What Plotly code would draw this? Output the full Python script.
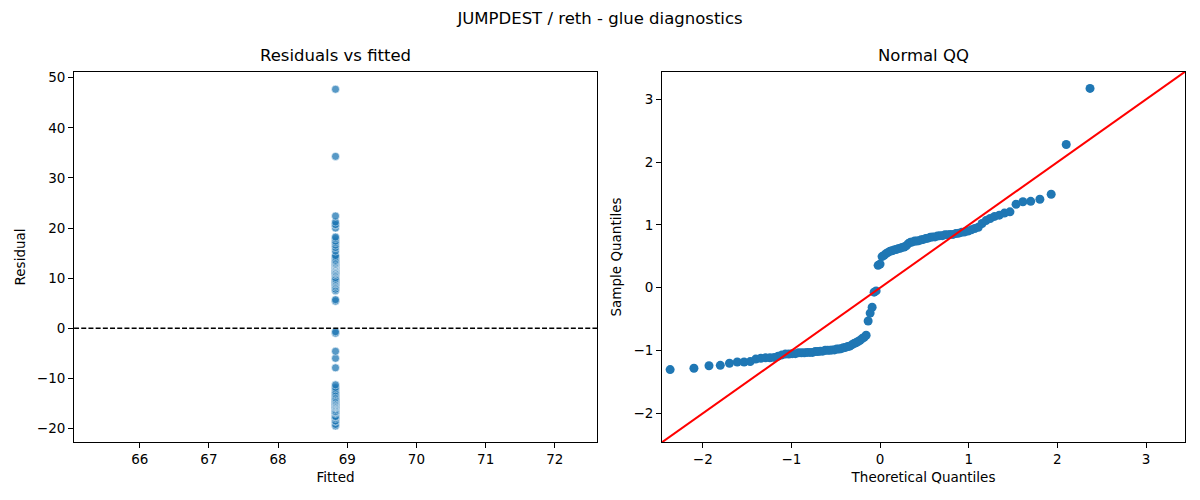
import numpy as np
from statistics import NormalDist
import plotly.graph_objects as go

# residuals of the glue model (sorted), all share one fitted value
residuals = [
    -19.5, -19.2, -18.6, -18.5, -18.0, -17.7, -17.7, -17.6, -17.0, -16.8,
    -16.7, -16.7, -16.6, -16.3, -16.0, -15.8, -15.8, -15.7, -15.7, -15.5,
    -15.5, -15.5, -15.4, -15.4, -15.4, -15.2, -15.2, -15.1, -15.1, -14.9,
    -14.9, -14.9, -14.8, -14.8, -14.6, -14.6, -14.5, -14.3, -14.2, -14.0,
    -13.9, -13.6, -13.3, -13.1, -12.8, -12.5, -12.1, -11.8, -11.3, -7.9,
    -6.0, -4.6, -1.0, -0.7, 5.4, 5.7, 7.5, 7.8, 8.2, 8.5,
    8.8, 8.9, 9.1, 9.2, 9.4, 9.5, 9.7, 9.8, 10.1, 10.6,
    10.9, 11.0, 11.2, 11.2, 11.3, 11.5, 11.6, 11.8, 11.9, 12.1,
    12.2, 12.2, 12.4, 12.5, 12.5, 12.7, 12.7, 12.8, 12.8, 13.0,
    13.1, 13.3, 13.4, 13.6, 13.9, 14.2, 14.5, 15.4, 16.1, 16.6,
    17.1, 17.4, 17.9, 18.2, 20.0, 20.6, 20.7, 21.2, 22.4, 34.3,
    47.7,
]
fitted_value = 68.83

fitted = [fitted_value] * len(residuals)

# normal QQ, standardized sample like statsmodels qqplot(fit=True)
r = np.sort(np.array(residuals))
n = len(r)
sample_q = (r - r.mean()) / r.std()
theo_q = [NormalDist().inv_cdf(i / (n + 1)) for i in range(1, n + 1)]

QQ_LIMS = [-2.46, 3.44]

FONT = "DejaVu Sans"
BLUE = "#1f77b4"

fig = go.Figure()

fig.add_trace(go.Scatter(
    x=fitted, y=residuals, mode="markers",
    marker=dict(color=BLUE, opacity=0.75, size=8,
                line=dict(color="white", width=0.6)),
    xaxis="x", yaxis="y", showlegend=False))

fig.add_trace(go.Scatter(
    x=[65.05, 72.61], y=[0, 0], mode="lines",
    line=dict(color="black", width=1.3, dash="5px,2.2px"),
    xaxis="x", yaxis="y", showlegend=False))

fig.add_trace(go.Scatter(
    x=theo_q, y=sample_q, mode="markers",
    marker=dict(color=BLUE, size=9, line=dict(width=0)),
    xaxis="x2", yaxis="y2", showlegend=False))

fig.add_trace(go.Scatter(
    x=QQ_LIMS, y=QQ_LIMS, mode="lines",
    line=dict(color="red", width=2),
    xaxis="x2", yaxis="y2", showlegend=False))

axis_style = dict(
    showline=True, linecolor="black", linewidth=1, mirror=True,
    ticks="outside", ticklen=5, tickwidth=1, tickcolor="black",
    showgrid=False, zeroline=False,
    tickfont=dict(family=FONT, size=13.5, color="black"),
)

fig.update_layout(
    width=1200, height=500,
    margin=dict(l=0, r=0, t=0, b=0),
    plot_bgcolor="white", paper_bgcolor="white",
    font=dict(family=FONT, color="black"),
    title=dict(text="JUMPDEST / reth - glue diagnostics",
               x=0.5, xanchor="center", y=0.964, yanchor="middle",
               font=dict(family=FONT, size=16.5, color="black")),
    xaxis=dict(domain=[0.0617, 0.4975], range=[65.05, 72.61], dtick=1,
               title=dict(text="Fitted", font=dict(size=13.5), standoff=6),
               anchor="y", **axis_style),
    yaxis=dict(domain=[0.116, 0.86], range=[-22.75, 51.2], dtick=10,
               title=dict(text="Residual", font=dict(size=13.5), standoff=8),
               anchor="x", **axis_style),
    xaxis2=dict(domain=[0.5517, 0.9875], range=QQ_LIMS, dtick=1,
                title=dict(text="Theoretical Quantiles", font=dict(size=13.5), standoff=6),
                anchor="y2", **axis_style),
    yaxis2=dict(domain=[0.116, 0.86], range=QQ_LIMS, dtick=1,
                title=dict(text="Sample Quantiles", font=dict(size=13.5), standoff=8),
                anchor="x2", **axis_style),
    annotations=[
        dict(text="Residuals vs fitted", x=(0.0617 + 0.4975) / 2, y=0.86,
             xref="paper", yref="paper", xanchor="center", yanchor="bottom",
             yshift=5, showarrow=False, font=dict(family=FONT, size=16.5)),
        dict(text="Normal QQ", x=(0.5517 + 0.9875) / 2, y=0.86,
             xref="paper", yref="paper", xanchor="center", yanchor="bottom",
             yshift=5, showarrow=False, font=dict(family=FONT, size=16.5)),
    ],
)

fig.write_html("out.html", config={"displayModeBar": False},
               post_script="document.body.style.margin='0';")
